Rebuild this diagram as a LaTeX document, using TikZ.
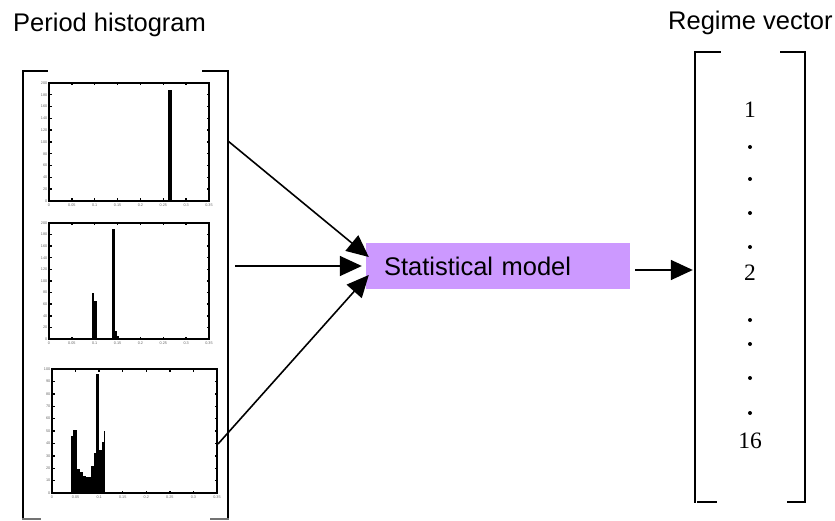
\documentclass[tikz,border=0pt]{standalone}
\usepackage{fontspec}
\setmainfont{Liberation Sans}
\newfontfamily\serifnum{Liberation Serif}
\usetikzlibrary{arrows.meta,calc}
\definecolor{modelfill}{HTML}{CC99FF}
\begin{document}
\begin{tikzpicture}[x=1pt,y=-1pt,
  arr/.style={line width=1.6pt,-{Triangle[length=22pt,width=20pt]}},
  brk/.style={line width=2pt,line cap=rect},
  axbox/.style={line width=1.9pt},
  tick/.style={line width=1.4pt},
  xl/.style={font=\fontsize{3.8}{4.2}\selectfont,text=black!60,inner sep=0pt,anchor=north,yshift=-2.8pt},
  yl/.style={font=\fontsize{3.8}{4.2}\selectfont,text=black!60,inner sep=0pt,anchor=east,xshift=-1.5pt},
  title/.style={font=\fontsize{25.5}{30}\selectfont,inner sep=0pt,anchor=base west},
  num/.style={font=\serifnum\fontsize{23.5}{27}\selectfont,inner sep=0pt}]
\useasboundingbox (0,0) rectangle (835,521);

% titles
\node[title] (t1) at (13,32) {Period histogram};
\node[title] (t2) at (668,30) {Regime vector};

% left bracket around histograms
\node[minimum width=205pt,minimum height=448pt,inner sep=0pt] (hist) at (125.5,295) {};
\draw[brk] (hist.north west) -- (hist.south west);
\draw[brk] (hist.north west) -- ++(24pt,0);
\draw[brk,black!55] (hist.south west) -- ++(17pt,0);
\draw[brk] (hist.north east) -- (hist.south east);
\draw[brk] (hist.north east) -- ++(-25pt,0);
\draw[brk,black!55] (hist.south east) -- ++(-17pt,0);

% histogram 1
\begin{scope}[shift={(49pt,-201pt)},x={(457.14pt,0)},y={(0,0.59pt)}]
  \fill (0.2614,0) rectangle (0.2680,188);
  \draw[axbox] (0,0) rectangle (0.35,200);
  \foreach \t in {0,0.05,0.1,0.15,0.2,0.25,0.3,0.35}{
    \draw[tick] (\t,0) -- ++(0,2.5pt);
    \draw[tick] (\t,200) -- ++(0,-2.5pt);
    \node[xl] at (\t,0) {\t};}
  \foreach \v in {0,20,...,200}{
    \draw[tick] (0,\v) -- ++(2.5pt,0);
    \draw[tick] (0.35,\v) -- ++(-2.5pt,0);
    \node[yl] at (0,\v) {\v};}
\end{scope}

% histogram 2
\begin{scope}[shift={(49pt,-339pt)},x={(457.14pt,0)},y={(0,0.58pt)}]
  \fill (0.0510,0) rectangle (0.0550,2);
  \fill (0.0941,0) rectangle (0.0991,79);
  \fill (0.0991,0) rectangle (0.1044,65.5);
  \fill (0.1385,0) rectangle (0.1444,190);
  \fill (0.1444,0) rectangle (0.1494,13.8);
  \fill (0.1494,0) rectangle (0.1538,5);
  \draw[axbox] (0,0) rectangle (0.35,200);
  \foreach \t in {0,0.05,0.1,0.15,0.2,0.25,0.3,0.35}{
    \draw[tick] (\t,0) -- ++(0,2.5pt);
    \draw[tick] (\t,200) -- ++(0,-2.5pt);
    \node[xl] at (\t,0) {\t};}
  \foreach \v in {0,20,...,200}{
    \draw[tick] (0,\v) -- ++(2.5pt,0);
    \draw[tick] (0.35,\v) -- ++(-2.5pt,0);
    \node[yl] at (0,\v) {\v};}
\end{scope}

% histogram 3
\begin{scope}[shift={(52pt,-493pt)},x={(471.43pt,0)},y={(0,1.24pt)}]
  \fill (0.0403,0) rectangle (0.0445,46);
  \fill (0.0445,0) rectangle (0.0523,51);
  \fill (0.0523,0) rectangle (0.0601,19.5);
  \fill (0.0601,0) rectangle (0.0665,17);
  \fill (0.0665,0) rectangle (0.0721,13.5);
  \fill (0.0721,0) rectangle (0.0820,13);
  \fill (0.0820,0) rectangle (0.0898,21.7);
  \fill (0.0898,0) rectangle (0.0926,32);
  \fill (0.0926,0) rectangle (0.0997,96);
  \fill (0.0997,0) rectangle (0.1054,35);
  \fill (0.1054,0) rectangle (0.1110,41);
  \fill (0.1110,0) rectangle (0.1124,50);
  \draw[blue!70!black,line width=1pt] (0.0403,0.6) -- (0.1110,0.6);
  \draw[axbox] (0,0) rectangle (0.35,100);
  \foreach \t in {0,0.05,0.1,0.15,0.2,0.25,0.3,0.35}{
    \draw[tick] (\t,0) -- ++(0,2.5pt);
    \draw[tick] (\t,100) -- ++(0,-2.5pt);
    \node[xl] at (\t,0) {\t};}
  \foreach \v in {0,10,...,100}{
    \draw[tick] (0,\v) -- ++(2.5pt,0);
    \draw[tick] (0.35,\v) -- ++(-2.5pt,0);
    \node[yl] at (0,\v) {\v};}
\end{scope}

% statistical model
\node[fill=modelfill,minimum width=264pt,minimum height=46pt,text width=228pt,
      inner xsep=18pt,inner ysep=0pt,align=left,font=\fontsize{25.5}{30}\selectfont]
      (model) at (498,266) {Statistical model};

% regime vector
\node[minimum width=110pt,minimum height=450pt,inner sep=0pt] (vec) at (750,277) {};
\draw[brk] (vec.north west) -- (vec.south west);
\draw[brk] (vec.north west) -- ++(25pt,0);
\draw[brk] ([xshift=3pt]vec.south west) -- ++(18pt,0);
\draw[brk] (vec.north east) -- (vec.south east);
\draw[brk] (vec.north east) -- ++(-24pt,0);
\draw[brk] (vec.south east) -- ++(-17pt,0);
\node[num] (n1) at (750,110) {1};
\node[num] (n2) at (750,273) {2};
\node[num] (n16) at (750,441) {16};
\foreach \yy in {147,179,213,247,320,344,378,413}{
  \fill (750,\yy) circle (2pt);}

% connectors
\coordinate (s1) at (228,141);
\coordinate (s2) at (235,266);
\coordinate (s3) at (218,444);
\draw[arr] (s1) -- ([shift={(3pt,9pt)}]model.west);
\draw[arr] (s2) -- ([xshift=-4pt]model.west);
\draw[arr] (s3) -- ([shift={(3pt,-9pt)}]model.west);
\draw[arr] ([shift={(5pt,-4pt)}]model.east) -- ([shift={(-2pt,7pt)}]vec.west);
\end{tikzpicture}
\end{document}
